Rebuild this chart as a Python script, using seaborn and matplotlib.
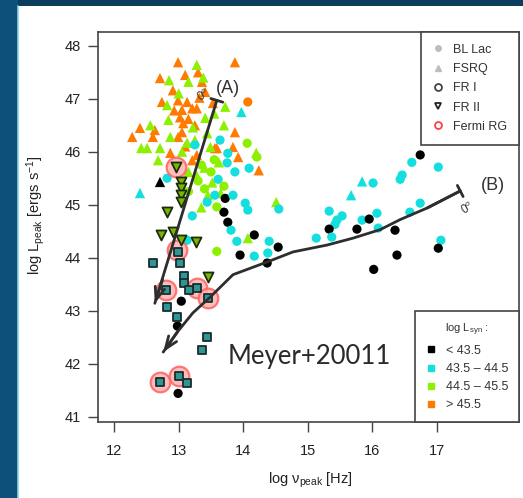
import matplotlib
matplotlib.use("Agg")
import matplotlib.pyplot as plt
from matplotlib.patches import Rectangle
from matplotlib.lines import Line2D
import seaborn as sns
import pandas as pd

sns.set_style("white")
plt.rcParams['font.family'] = ['Liberation Sans', 'DejaVu Sans']
plt.rcParams['mathtext.fontset'] = 'custom'
plt.rcParams['mathtext.rm'] = 'Liberation Sans'
plt.rcParams['mathtext.it'] = 'Liberation Sans:italic'

# ---------------- data (log nu_peak, log L_peak, L_syn class) ----------------
bllac_x = [16.61, 16.74, 17.02, 16.46, 16.43, 16.01, 16.74, 16.58, 16.07, 15.33, 15.53, 15.45, 15.42,
           15.84, 15.95, 15.33, 15.76, 16.09, 16.35, 15.13, 15.37, 17.06, 17.02, 16.38, 16.02, 14.54,
           14.40, 14.38, 14.37, 14.55,
           13.72, 13.70, 13.76, 14.17, 13.95, 13.25, 13.76, 13.75, 13.87, 14.09, 13.61, 13.56, 13.84,
           13.44, 14.03, 14.07, 13.21, 13.81, 13.90, 14.17, 13.59, 13.59, 12.82, 13.64, 14.07, 13.13,
           14.21, 14.06, 13.40, 13.50, 13.30, 13.35, 13.55, 13.70, 13.15,
           13.04, 12.98, 12.99]
bllac_y = [45.80, 45.94, 45.71, 45.56, 45.48, 45.41, 45.03, 44.86, 44.84, 44.88, 44.79, 44.71, 44.63,
           44.71, 44.73, 44.54, 44.54, 44.56, 44.52, 44.37, 44.39, 44.33, 44.18, 44.05, 43.78, 44.20,
           44.31, 44.09, 43.90, 44.92,
           45.12, 44.86, 44.67, 44.43, 44.05, 46.13, 45.97, 45.79, 45.62, 45.69, 45.48, 45.18, 45.18,
           45.05, 45.03, 44.90, 44.79, 44.52, 44.31, 44.03, 44.12, 44.96, 45.50, 46.22, 46.94, 44.33,
           45.90, 46.16, 45.30, 45.62, 45.45, 45.75, 45.85, 45.35, 45.25,
           43.18, 42.71, 41.44]
bllac_c = ['c', 'k', 'c', 'c', 'c', 'c', 'c', 'c', 'c', 'c', 'c', 'c', 'c',
           'c', 'k', 'k', 'k', 'c', 'k', 'c', 'c', 'c', 'k', 'k', 'k', 'k',
           'c', 'c', 'k', 'c',
           'k', 'k', 'k', 'k', 'k', 'c', 'c', 'c', 'c', 'c', 'c', 'c', 'c',
           'c', 'c', 'c', 'c', 'c', 'c', 'c', 'g', 'g', 'c', 'c', 'o', 'c',
           'g', 'g', 'g', 'g', 'g', 'g', 'g', 'g', 'g',
           'k', 'k', 'k']

fsrq_x = [12.99, 13.87, 12.71, 12.91, 13.30, 12.74, 12.99, 13.13, 13.05, 13.21, 13.28, 13.41, 13.53,
          13.02, 13.07, 13.25, 13.05, 12.63, 12.60, 12.40, 12.28, 12.99, 13.28, 13.59, 12.87, 13.36,
          13.87, 13.92, 14.24, 13.84, 13.56, 13.21, 13.10, 13.15, 12.93, 13.32, 13.10,
          13.28, 13.15, 12.85, 12.82, 12.84, 12.56, 12.51, 12.42, 12.71, 12.68, 13.41, 13.25, 13.44,
          13.49, 13.22, 12.87, 13.13, 14.51, 14.07, 13.62, 13.40, 13.28, 13.52, 13.65, 13.45, 13.35,
          13.15, 13.05, 13.70, 13.55, 14.20, 13.72, 13.00, 13.38,
          15.84, 15.67, 12.40, 13.97, 12.71]
fsrq_y = [47.69, 47.69, 47.39, 47.16, 47.50, 46.94, 46.97, 46.94, 46.79, 46.82, 46.82, 47.13, 46.92,
          46.65, 46.54, 46.50, 46.37, 46.41, 46.28, 46.45, 46.28, 46.28, 45.94, 46.07, 45.98, 47.32,
          46.37, 45.90, 45.65, 46.09, 46.07, 45.84, 46.10, 46.62, 46.78, 47.02, 47.45,
          47.64, 47.32, 47.35, 46.88, 46.60, 46.50, 46.07, 46.07, 46.07, 45.84, 46.64, 46.22, 46.35,
          46.09, 46.46, 46.28, 46.17, 45.05, 44.37, 45.80, 45.70, 45.55, 45.42, 45.22, 45.18, 44.95,
          45.62, 46.00, 46.50, 46.72, 45.98, 46.85, 47.10, 47.40,
          45.44, 45.18, 45.22, 46.75, 45.43]
fsrq_c = ['o'] * 37 + ['g'] * 34 + ['c', 'c', 'c', 'c', 'k']

fr1_x = [12.60, 13.08, 13.08, 12.80, 13.28, 13.16, 13.46, 12.82, 13.44, 13.36, 12.71, 13.00, 13.13,
         12.99, 13.02, 12.98]
fr1_y = [43.90, 43.65, 43.52, 43.39, 43.42, 43.40, 43.24, 43.07, 42.50, 42.26, 41.65, 41.76, 41.63,
         44.10, 43.90, 42.88]

fr2_x = [13.04, 13.04, 13.04, 13.04, 12.82, 12.91, 12.73, 13.04, 13.27, 12.96, 13.46]
fr2_y = [45.43, 45.31, 45.18, 45.06, 44.86, 44.48, 44.43, 44.33, 44.29, 45.71, 43.63]

fermi_x = [12.96, 12.97, 12.80, 13.28, 13.46, 12.71, 13.00]
fermi_y = [45.71, 44.14, 43.39, 43.42, 43.24, 41.65, 41.76]

# arrow tracks
trackA_x = [13.59, 12.63]
trackA_y = [46.97, 43.14]
trackB_x = [17.36, 16.85, 16.43, 16.12, 15.70, 15.30, 14.77, 14.37, 13.84, 13.49, 13.22, 12.98, 12.76]
trackB_y = [45.26, 44.94, 44.72, 44.53, 44.37, 44.24, 44.11, 43.92, 43.68, 43.26, 42.96, 42.60, 42.22]

type_labels = ['BL Lac', 'FSRQ', 'FR I', 'FR II', 'Fermi RG']
lum_labels = ['< 43.5', '43.5 \u2013 44.5', '44.5 \u2013 45.5', '> 45.5']
xticks = [12, 13, 14, 15, 16, 17]
yticks = [41, 42, 43, 44, 45, 46, 47, 48]

palette = {'k': '#000000', 'c': '#14dede', 'g': '#8cf000', 'o': '#ff7a00'}

# ---------------- figure ----------------
W, H = 523, 498
fig = plt.figure(figsize=(W / 100, H / 100), dpi=100)
fig.patch.set_facecolor('#0b3d5f')
fig.add_artist(Rectangle((0, 0), 18 / W, 1, transform=fig.transFigure,
                         facecolor='#0d5079', edgecolor='none', zorder=0))
fig.add_artist(Rectangle((18 / W, 0), 1 - 18 / W, 1 - 6 / H, transform=fig.transFigure,
                         facecolor='white', edgecolor='none', zorder=0))
fig.add_artist(Line2D([18 / W, 18 / W], [0, 1 - 6 / H], transform=fig.transFigure,
                      color='#8fd0ea', lw=1.2, zorder=1))

ax = fig.add_axes([98 / W, 1 - 422 / H, (519 - 98) / W, (422 - 32) / H])
ax.set_facecolor('white')

bl = pd.DataFrame({'x': bllac_x, 'y': bllac_y, 'c': bllac_c})
fs = pd.DataFrame({'x': fsrq_x, 'y': fsrq_y, 'c': fsrq_c})
f1 = pd.DataFrame({'x': fr1_x, 'y': fr1_y})
f2 = pd.DataFrame({'x': fr2_x, 'y': fr2_y})
fe = pd.DataFrame({'x': fermi_x, 'y': fermi_y})

sns.scatterplot(data=fs, x='x', y='y', hue='c', palette=palette, marker='^', s=55,
                linewidth=0, legend=False, ax=ax, zorder=3)
sns.scatterplot(data=bl, x='x', y='y', hue='c', palette=palette, marker='o', s=44,
                linewidth=0, legend=False, ax=ax, zorder=3)
sns.scatterplot(data=fe, x='x', y='y', marker='o', s=200, color='#ffb3b3',
                edgecolor='#ff6262', linewidth=1.6, alpha=0.85, legend=False, ax=ax, zorder=4)
sns.scatterplot(data=f1, x='x', y='y', marker='s', s=32, color='#2f9696',
                edgecolor='#1a2b2b', linewidth=1.3, legend=False, ax=ax, zorder=5)
sns.scatterplot(data=f2, x='x', y='y', marker='v', s=52, color='#76b800',
                edgecolor='#1e2a10', linewidth=1.3, legend=False, ax=ax, zorder=5)

# arrows
lc = '#2e2e2e'
ax.annotate('', xy=(trackA_x[1], trackA_y[1]), xytext=(trackA_x[0], trackA_y[0]),
            arrowprops=dict(arrowstyle='|-|,widthA=0.45,widthB=0', color=lc, lw=2,
                            shrinkA=0, shrinkB=0), zorder=6)
ax.annotate('', xy=(trackA_x[1], trackA_y[1]), xytext=(trackA_x[1] + 0.12, trackA_y[1] + 0.45),
            arrowprops=dict(arrowstyle='->,head_length=0.9,head_width=0.35', color=lc, lw=2,
                            shrinkA=0, shrinkB=0), zorder=6)
ax.plot(trackB_x, trackB_y, color=lc, lw=2, zorder=6, solid_capstyle='round')
ax.annotate('', xy=(trackB_x[-1], trackB_y[-1]), xytext=(trackB_x[-2], trackB_y[-2]),
            arrowprops=dict(arrowstyle='->,head_length=0.9,head_width=0.35', color=lc, lw=2,
                            shrinkA=0, shrinkB=0), zorder=6)
ax.annotate('', xy=(trackB_x[1], trackB_y[1]), xytext=(trackB_x[0], trackB_y[0]),
            arrowprops=dict(arrowstyle='|-|,widthA=0.45,widthB=0', color=lc, lw=2,
                            shrinkA=0, shrinkB=0), zorder=6)

ax.text(13.76, 47.2, '(A)', fontsize=13, color='#333333', ha='center', va='center', zorder=7)
ax.text(13.38, 47.05, '0$^{o}$', fontsize=8.5, color='#333333', ha='center', va='center',
        rotation=30, zorder=7)
ax.text(17.87, 45.37, '(B)', fontsize=13, color='#333333', ha='center', va='center', zorder=7)
ax.text(17.48, 44.92, '0$^{o}$', fontsize=8.5, color='#333333', ha='center', va='center',
        rotation=30, zorder=7)
ax.text(15.02, 42.14, 'Meyer+20011', fontsize=18.5, family='Lato', color='#2a2a2a',
        ha='center', va='center', zorder=7)

ax.set_xlim(11.75, 18.27)
ax.set_ylim(40.9, 48.26)
ax.set_xticks(xticks)
ax.set_yticks(yticks)
ax.tick_params(axis='both', which='major', direction='out', length=7, width=1,
               color='#444444', labelsize=10.5, labelcolor='#222222', bottom=True, left=True)
ax.tick_params(axis='x', pad=9)
ax.tick_params(axis='y', pad=5)
for sp in ax.spines.values():
    sp.set_color('#444444')
    sp.set_linewidth(1.2)
ax.set_xlabel('')
ax.set_ylabel('')
fig.text(310 / W, 1 - 480 / H, 'log \u03bd$_{\\rm peak}$ [Hz]', fontsize=10.5, color='#222222',
         ha='center', va='center')
fig.text(36 / W, 1 - 215 / H, r'log L$_{\rm peak}$ [ergs s$^{-1}$]', fontsize=10.5,
         color='#222222', ha='center', va='center', rotation=90)

# legends
h1 = [Line2D([], [], ls='', marker='o', ms=4, mfc='#bdbdbd', mec='#bdbdbd'),
      Line2D([], [], ls='', marker='^', ms=4, mfc='#bdbdbd', mec='#bdbdbd'),
      Line2D([], [], ls='', marker='o', ms=5, mfc='none', mec='#444444', mew=1.3),
      Line2D([], [], ls='', marker='v', ms=5, mfc='none', mec='#222222', mew=1.3),
      Line2D([], [], ls='', marker='o', ms=5, mfc='none', mec='#ff4040', mew=1.3)]
leg1 = ax.legend(h1, type_labels, loc='upper right', bbox_to_anchor=(1, 1), borderaxespad=0,
                 fontsize=9, handlelength=0.8, handletextpad=0.8, borderpad=0.95,
                 labelspacing=0.58, fancybox=False, framealpha=1, edgecolor='#444444',
                 labelcolor='#333333')
leg1.get_frame().set_linewidth(1.2)
leg1.set_zorder(10)
ax.add_artist(leg1)

h2 = [Line2D([], [], ls='', marker='s', ms=4.5, mfc=palette[k], mec=palette[k]) for k in ['k', 'c', 'g', 'o']]
leg2 = ax.legend(h2, lum_labels, loc='lower right', bbox_to_anchor=(1, 0), borderaxespad=0,
                 fontsize=9, handlelength=0.8, handletextpad=0.8, borderpad=0.85,
                 labelspacing=0.5, fancybox=False, framealpha=1, edgecolor='#444444',
                 labelcolor='#333333', title=r'log L$_{\rm syn}$ :', title_fontsize=8)
leg2.get_frame().set_linewidth(1.2)
leg2.get_title().set_color('#333333')
leg2.set_zorder(10)

fig.savefig('out.png', dpi=100, facecolor=fig.get_facecolor())
